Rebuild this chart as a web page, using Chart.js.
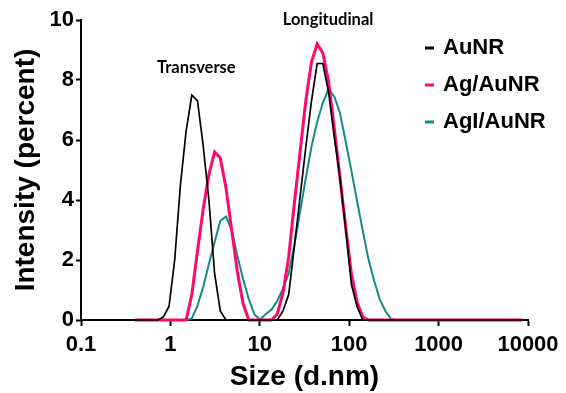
<!DOCTYPE html>
<html>
<head>
<meta charset="utf-8">
<script src="https://cdn.jsdelivr.net/npm/chart.js@4.4.1/dist/chart.umd.min.js"></script>
<style>
  html, body { margin: 0; padding: 0; background: #fff; }
  #wrap { width: 566px; height: 393px; position: relative; }
</style>
</head>
<body>
<div id="wrap"><canvas id="dls-chart"></canvas></div>
<script>
// DLS size bins (d.nm)
const sizes = [
  0.4, 0.4632, 0.5365, 0.6213, 0.7195, 0.8332, 0.9649, 1.117, 1.294, 1.499,
  1.736, 2.010, 2.328, 2.696, 3.122, 3.615, 4.187, 4.849, 5.615, 6.503,
  7.531, 8.721, 10.10, 11.70, 13.54, 15.69, 18.17, 21.04, 24.36, 28.21,
  32.67, 37.84, 43.82, 50.75, 58.77, 68.06, 78.82, 91.28, 105.7, 122.4,
  141.8, 164.2, 190.1, 220.2, 255.0, 295.3, 342.0, 396.1, 458.7, 531.2,
  615.1, 712.4, 825.0, 955.4, 1106, 1281, 1484, 1718, 1990, 2305,
  2669, 3091, 3580, 4145, 4801, 5560, 6439, 7456, 8635
];

// Intensity (%) per bin
const aunr = [
  0, 0, 0, 0, 0, 0.1, 0.45, 2.0, 4.5, 6.3,
  7.5, 7.3, 5.8, 4.0, 1.55, 0.3, 0, 0, 0, 0,
  0, 0, 0, 0, 0, 0, 0.3, 0.85, 2.45, 4.1,
  5.75, 7.3, 8.55, 8.55, 7.6, 6.1, 4.75, 3.05, 1.2, 0.45,
  0, 0, 0, 0, 0, 0, 0, 0, 0, 0,
  0, 0, 0, 0, 0, 0, 0, 0, 0, 0,
  0, 0, 0, 0, 0, 0, 0, 0, 0
];
const agAunr = [
  0, 0, 0, 0, 0, 0, 0, 0, 0, 0,
  0.85, 2.3, 3.7, 4.85, 5.6, 5.4, 4.4, 3.0, 1.6, 0.55,
  0, 0, 0, 0, 0, 0.2, 0.9, 2.1, 3.9, 5.6,
  7.3, 8.6, 9.2, 8.9, 7.95, 6.4, 4.75, 3.1, 1.55, 0.6,
  0.1, 0, 0, 0, 0, 0, 0, 0, 0, 0,
  0, 0, 0, 0, 0, 0, 0, 0, 0, 0,
  0, 0, 0, 0, 0, 0, 0, 0, 0
];
const agiAunr = [
  0, 0, 0, 0, 0, 0, 0, 0, 0, 0,
  0.05, 0.48, 1.1, 1.87, 2.6, 3.3, 3.45, 3.0, 2.13, 1.37,
  0.7, 0.18, 0.02, 0.2, 0.35, 0.64, 1.04, 1.55, 2.5, 3.6,
  4.73, 5.78, 6.6, 7.24, 7.7, 7.45, 6.9, 5.95, 4.98, 3.97,
  2.98, 2.03, 1.31, 0.68, 0.29, 0.03, 0, 0, 0, 0,
  0, 0, 0, 0, 0, 0, 0, 0, 0, 0,
  0, 0, 0, 0, 0, 0, 0, 0, 0
];

const seriesNames = ['AuNR', 'Ag/AuNR', 'AgI/AuNR'];
const xTicks = [0.1, 1, 10, 100, 1000, 10000];
const yTicks = [0, 2, 4, 6, 8, 10];

const toPoints = arr => arr.map((v, i) => ({ x: sizes[i], y: v }));

// right-hand legend drawn over the plot
const sideLegend = {
  id: 'sideLegend',
  afterDraw(chart) {
    const ctx = chart.ctx;
    ctx.save();
    ctx.font = 'bold 22px "Liberation Sans", Arial, sans-serif';
    ctx.textBaseline = 'middle';
    ctx.fillStyle = '#000';
    chart.data.datasets.forEach((ds, i) => {
      const y = 48 + i * 37;
      ctx.strokeStyle = ds.borderColor;
      ctx.lineWidth = 3;
      ctx.beginPath();
      ctx.moveTo(425, y);
      ctx.lineTo(434, y);
      ctx.stroke();
      ctx.fillText(ds.label, 443, y);
    });
    ctx.restore();
  }
};

// peak labels
const peakLabels = {
  id: 'peakLabels',
  afterDraw(chart) {
    const { ctx, scales: { x, y } } = chart;
    ctx.save();
    ctx.font = 'bold 16.5px Lato, "Open Sans", sans-serif';
    ctx.textAlign = 'center';
    ctx.textBaseline = 'middle';
    ctx.fillStyle = '#000';
    ctx.fillText('Transverse', x.getPixelForValue(1.95), y.getPixelForValue(8.4));
    ctx.fillText('Longitudinal', x.getPixelForValue(58), y.getPixelForValue(10));
    ctx.restore();
  }
};

const tickFont = { family: '"Liberation Sans", Arial, sans-serif', size: 22, weight: 'bold' };
const titleFont = { family: '"Liberation Sans", Arial, sans-serif', size: 28, weight: 'bold', lineHeight: 1 };

new Chart(document.getElementById('dls-chart'), {
  type: 'line',
  data: {
    datasets: [
      { label: seriesNames[0], data: toPoints(aunr), borderColor: '#000000', borderWidth: 1.7 },
      { label: seriesNames[1], data: toPoints(agAunr), borderColor: '#ff0a6c', borderWidth: 3 },
      { label: seriesNames[2], data: toPoints(agiAunr), borderColor: '#16898a', borderWidth: 2 },
    ].map(d => Object.assign(d, { pointRadius: 0, tension: 0, fill: false, clip: false })),
  },
  options: {
    responsive: true,
    maintainAspectRatio: false,
    animation: false,
    events: [],
    layout: { padding: { top: 20, right: 38, left: 0, bottom: 0 } },
    plugins: { legend: { display: false }, tooltip: { enabled: false } },
    scales: {
      x: {
        type: 'logarithmic',
        min: 0.1,
        max: 10000,
        afterBuildTicks: s => { s.ticks = xTicks.map(v => ({ value: v })); },
        afterFit: s => { s.height = 73; },
        ticks: {
          color: '#000', font: tickFont, padding: 6, autoSkip: false, maxRotation: 0,
          callback: v => String(v),
        },
        grid: { drawOnChartArea: false, drawTicks: true, tickLength: 6, tickWidth: 2, tickColor: '#000' },
        border: { color: '#000', width: 2 },
        title: { display: true, text: 'Size (d.nm)', color: '#000', font: titleFont, padding: { top: 0, bottom: 2 } },
      },
      y: {
        min: 0,
        max: 10,
        afterBuildTicks: s => { s.ticks = yTicks.map(v => ({ value: v })); },
        afterFit: s => { s.width = 81; },
        ticks: { color: '#000', font: tickFont, padding: 2 },
        grid: { drawOnChartArea: false, drawTicks: true, tickLength: 5, tickWidth: 2, tickColor: '#000' },
        border: { color: '#000', width: 2 },
        title: { display: true, text: 'Intensity (percent)', color: '#000', font: titleFont, padding: { top: 12, bottom: 0 } },
      },
    },
  },
  plugins: [sideLegend, peakLabels],
});
</script>
</body>
</html>
